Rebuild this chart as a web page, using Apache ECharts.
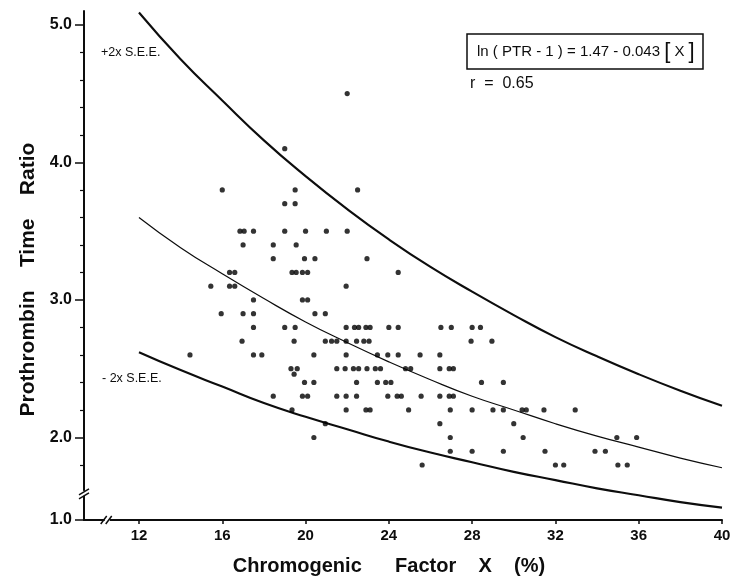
<!DOCTYPE html>
<html><head><meta charset="utf-8">
<script src="https://cdn.jsdelivr.net/npm/echarts@6/dist/echarts.min.js"></script>
<style>html,body{margin:0;padding:0;background:#fff}#c{width:735px;height:581px}</style>
</head><body><div id="c"></div>
<script>
// ---- data ----
const xTicks = [12, 16, 20, 24, 28, 32, 36, 40];
const yTickValues = [1.4, 2, 3, 4, 5];          // 1.4 sits at the broken-axis origin
const yTickLabels = ['1.0', '2.0', '3.0', '4.0', '5.0'];
const yMinorTicks = [1.8, 2.2, 2.4, 2.6, 2.8, 3.2, 3.4, 3.6, 3.8, 4.2, 4.4, 4.6, 4.8];

const curveX      = [12, 14, 16, 18, 20, 22, 24, 26, 28, 30, 32, 34, 36, 38, 40];
const regressionY = [3.60, 3.38, 3.19, 3.01, 2.84, 2.69, 2.55, 2.42, 2.30, 2.20, 2.10, 2.01, 1.93, 1.85, 1.78];
const upperY      = [5.09, 4.75, 4.45, 4.16, 3.90, 3.66, 3.44, 3.24, 3.06, 2.89, 2.73, 2.59, 2.46, 2.34, 2.23];
const lowerY      = [2.62, 2.49, 2.37, 2.25, 2.15, 2.06, 1.97, 1.89, 1.82, 1.75, 1.69, 1.63, 1.58, 1.53, 1.49];

// observed points, grouped by prothrombin time ratio
const rowPTR = [4.5, 4.1, 3.8, 3.7, 3.5, 3.4, 3.3, 3.2, 3.1, 3.0, 2.9, 2.8, 2.7, 2.6, 2.5, 2.46, 2.4, 2.3, 2.2, 2.1, 2.0, 1.9, 1.8];
const rowFactor = [
  [22.0],
  [19.0],
  [16.0, 19.5, 22.5],
  [19.0, 19.5],
  [16.85, 17.05, 17.5, 19.0, 20.0, 21.0, 22.0],
  [17.0, 18.45, 19.55],
  [18.45, 19.95, 20.45, 22.95],
  [16.35, 16.6, 19.35, 19.55, 19.85, 20.1, 24.45],
  [15.45, 16.35, 16.6, 21.95],
  [17.5, 19.85, 20.1],
  [15.95, 17.0, 17.5, 20.45, 20.95],
  [17.5, 19.0, 19.5, 21.95, 22.35, 22.55, 22.9, 23.1, 24.0, 24.45, 26.5, 27.0, 28.0, 28.4],
  [16.95, 19.45, 20.95, 21.25, 21.5, 21.95, 22.45, 22.8, 23.05, 27.95, 28.95],
  [14.45, 17.5, 17.9, 20.4, 21.95, 23.45, 23.95, 24.45, 25.5, 26.45],
  [19.3, 19.6, 21.5, 21.9, 22.3, 22.55, 22.95, 23.35, 23.6, 24.8, 25.05, 26.45, 26.9, 27.1],
  [19.45],
  [19.95, 20.4, 22.45, 23.45, 23.85, 24.1, 28.45, 29.5],
  [18.45, 19.85, 20.1, 21.5, 21.95, 22.45, 23.95, 24.4, 24.6, 25.55, 26.45, 26.9, 27.1],
  [19.35, 21.95, 22.9, 23.1, 24.95, 26.95, 28.0, 29.0, 29.5, 30.4, 30.6, 31.45, 32.95],
  [20.95, 26.45, 30.0],
  [20.4, 26.95, 30.45, 34.95, 35.9],
  [26.95, 28.0, 29.5, 31.5, 33.9, 34.4],
  [25.6, 32.0, 32.4, 35.0, 35.45]
];

// ---- build series data ----
const points = [];
rowPTR.forEach((y, i) => rowFactor[i].forEach(x => points.push([x, y])));
const pair = ys => curveX.map((x, i) => [x, ys[i]]);

const INK = '#0d0d0d';
const FONT = '"Liberation Sans", Arial, Helvetica, sans-serif';

const chart = echarts.init(document.getElementById('c'), null, {renderer: 'canvas'});
chart.setOption({
  animation: false,
  backgroundColor: '#fff',
  grid: {left: 84, right: 13, top: 11.1, bottom: 56.8, containLabel: false},
  xAxis: {
    type: 'value', min: 9.36, max: 40,
    name: 'Chromogenic      Factor    X    (%)',
    nameLocation: 'middle', nameGap: 36,
    nameTextStyle: {fontFamily: FONT, fontWeight: 'bold', fontSize: 20, color: INK, padding: [0, 28, 0, 0]},
    axisLine: {show: true, onZero: false, lineStyle: {color: INK, width: 2}},
    axisTick: {show: true, customValues: xTicks, length: 4, lineStyle: {color: INK, width: 1.5}},
    axisLabel: {customValues: xTicks, margin: 8, fontFamily: FONT, fontWeight: 'bold', fontSize: 15, color: INK},
    splitLine: {show: false}
  },
  yAxis: [{
    type: 'value', min: 1.4, max: 5.1,
    name: 'Prothrombin    Time    Ratio',
    nameLocation: 'middle', nameGap: 42,
    nameTextStyle: {fontFamily: FONT, fontWeight: 'bold', fontSize: 21, color: INK, padding: [0, 28, 0, 0]},
    axisLine: {show: true, onZero: false, lineStyle: {color: INK, width: 2}},
    axisTick: {show: true, customValues: yTickValues, length: 9, lineStyle: {color: INK, width: 1.5}},
    axisLabel: {
      customValues: yTickValues, margin: 12,
      fontFamily: FONT, fontWeight: 'bold', fontSize: 16, color: INK,
      formatter: v => {
        const k = yTickValues.findIndex(t => Math.abs(t - v) < 1e-6);
        return k >= 0 ? yTickLabels[k] : '';
      }
    },
    splitLine: {show: false}
  }, {
    type: 'value', min: 1.4, max: 5.1, position: 'left',
    axisLine: {show: false},
    axisTick: {show: true, customValues: yMinorTicks, length: 4, lineStyle: {color: INK, width: 1.2}},
    axisLabel: {show: false},
    splitLine: {show: false}
  }],
  series: [
    {type: 'line', data: pair(upperY), smooth: true, symbol: 'none', lineStyle: {color: INK, width: 2.1}, z: 3},
    {type: 'line', data: pair(regressionY), smooth: true, symbol: 'none', lineStyle: {color: INK, width: 1.2}, z: 3},
    {type: 'line', data: pair(lowerY), smooth: true, symbol: 'none', lineStyle: {color: INK, width: 2.1}, z: 3},
    {type: 'scatter', data: points, symbol: 'circle', symbolSize: 5.2, itemStyle: {color: '#000'}, z: 4}
  ]
});

// ---- annotations and axis-break marks ----
const yBreak = chart.convertToPixel({yAxisIndex: 0}, 1.59);
const xBreak = chart.convertToPixel({xAxisIndex: 0}, 10.5);
const yAxisX = chart.convertToPixel({xAxisIndex: 0}, 9.36);
const xAxisY = chart.convertToPixel({yAxisIndex: 0}, 1.4);

const lineEl = (x1, y1, x2, y2) => ({type: 'line', shape: {x1, y1, x2, y2}, style: {stroke: INK, lineWidth: 1.5}, z: 20});

chart.setOption({
  graphic: [
    {type: 'text', left: 101, top: 46, style: {text: '+2x S.E.E.', font: '12.5px ' + FONT, fill: INK}},
    {type: 'text', left: 102, top: 372, style: {text: '- 2x S.E.E.', font: '12.5px ' + FONT, fill: INK}},
    {type: 'rect', shape: {x: 467, y: 34, width: 236, height: 35}, style: {fill: 'none', stroke: INK, lineWidth: 1.5}},
    {type: 'text', x: 477, y: 52, style: {
      text: '{a|ln ( PTR - 1 ) = 1.47 - 0.043 }{b|[}{a| X }{b|]}',
      verticalAlign: 'middle', fill: INK,
      rich: {a: {fontFamily: FONT, fontSize: 15, fill: INK}, b: {fontFamily: FONT, fontSize: 22, fill: INK}}
    }},
    {type: 'text', x: 470, y: 84, style: {text: 'r  =  0.65', font: '16px ' + FONT, fill: INK, verticalAlign: 'middle'}},
    // y-axis break
    {type: 'rect', shape: {x: yAxisX - 3, y: yBreak - 3, width: 6, height: 5}, style: {fill: '#fff'}, z: 19},
    lineEl(yAxisX - 5, yBreak + 1, yAxisX + 5, yBreak - 5),
    lineEl(yAxisX - 5, yBreak + 5, yAxisX + 5, yBreak - 1),
    // x-axis break
    {type: 'rect', shape: {x: xBreak - 3, y: xAxisY - 3, width: 5, height: 6}, style: {fill: '#fff'}, z: 19},
    lineEl(xBreak - 7, xAxisY + 4, xBreak - 1, xAxisY - 4),
    lineEl(xBreak - 2, xAxisY + 4, xBreak + 4, xAxisY - 4)
  ]
});
</script></body></html>
